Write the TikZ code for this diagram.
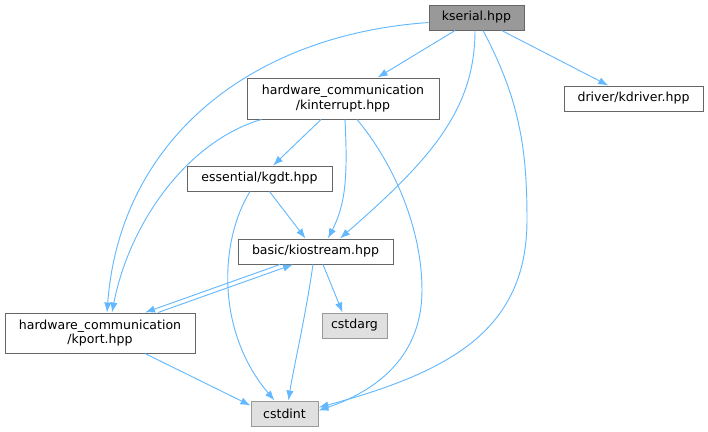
\documentclass[tikz,border=0pt]{standalone}
\usepackage{fontspec}
\setmainfont{DejaVu Sans}
\usetikzlibrary{arrows.meta,calc}

\begin{document}
\begin{tikzpicture}[x=0.75pt, y=-0.75pt,
  incnode/.style={draw=black!60, align=center, inner sep=1pt, fill=white,
                  line width=0.75pt, font=\fontsize{9.4}{10.7}\selectfont},
  incroot/.style={incnode, fill=black!40, draw=black!60},
  incsys/.style={incnode, fill=black!12, draw=black!40},
  incedge/.style={draw=incblue, -{Latex[length=7.5pt,width=5.5pt]}, line width=0.7pt},
]
  \definecolor{incblue}{HTML}{63B8FF}
  \useasboundingbox (0,0) rectangle (708,432);
  \node[incroot, minimum width=71.25pt, minimum height=18.75pt] (ks) at (476.5,17.5) {kserial.hpp};
  \node[incnode, minimum width=144pt, minimum height=30.75pt] (kint) at (343,98.5) {hardware\_communication\\/kinterrupt.hpp};
  \node[incnode, minimum width=104.25pt, minimum height=18.75pt] (kdrv) at (633.5,98.5) {driver/kdriver.hpp};
  \node[incnode, minimum width=108.75pt, minimum height=18.75pt] (kgdt) at (259.5,178.5) {essential/kgdt.hpp};
  \node[incnode, minimum width=116.25pt, minimum height=18.75pt] (kio) at (315.5,251.5) {basic/kiostream.hpp};
  \node[incnode, minimum width=142.5pt, minimum height=30pt] (kp) at (100,333) {hardware\_communication\\/kport.hpp};
  \node[incsys, minimum width=48.75pt, minimum height=18.75pt] (carg) at (354.5,325.5) {cstdarg};
  \node[incsys, minimum width=50.25pt, minimum height=18.75pt] (cint) at (284.5,413.5) {cstdint};
  % kserial.hpp
  \draw[incedge] (ks) -- (kint);
  \draw[incedge] (ks) -- (kdrv);
  \draw[incedge] ($(ks.west)+(0,5)$) .. controls (250,35) and (120,140) .. ($(kp.north)+(7,0)$);
  \draw[incedge] ($(ks.south)+(-1.5,0)$) .. controls (475,110) and (430,160) .. ($(kio.north)+(24.5,0)$);
  \draw[incedge] ($(ks.south)+(6.5,0)$) .. controls (520,100) and (527,150) .. (527,220)
    .. controls (527,330) and (450,372) .. ($(cint.east)+(0,-6)$);
  % kinterrupt.hpp
  \draw[incedge] (kint) -- (kgdt);
  \draw[incedge] ($(kint.south)+(2,0)$) .. controls (348,180) and (345,205) .. ($(kio.north)+(12.5,0)$);
  \draw[incedge] ($(kint.south west)+(15,0)$) .. controls (190,140) and (130,220) .. ($(kp.north)+(12,0)$);
  \draw[incedge] ($(kint.south)+(14,0)$) .. controls (395,165) and (422,230) .. (422,290)
    .. controls (422,350) and (385,388) .. ($(cint.east)+(0,-3)$);
  % kgdt.hpp
  \draw[incedge] (kgdt) -- (kio);
  \draw[incedge] ($(kgdt.south)+(-9.5,0)$) .. controls (220,240) and (215,330) .. ($(cint.north)+(-10,0)$);
  % kiostream.hpp
  \draw[incedge] ($(kio.south)+(-35.5,0)$) -- ($(kp.north)+(45,0)$);
  \draw[incedge] ($(kp.north)+(58,0)$) -- ($(kio.south)+(-22.5,0)$);
  \draw[incedge] ($(kio.south)+(7.5,0)$) -- ($(carg.north)+(-12,0)$);
  \draw[incedge] ($(kio.south)+(-2.5,0)$) .. controls (305,320) and (293,370) .. ($(cint.north)+(4,0)$);
  % kport.hpp
  \draw[incedge] ($(kp.south)+(45,0)$) -- ($(cint.west)+(0,-8)$);
\end{tikzpicture}
\end{document}
